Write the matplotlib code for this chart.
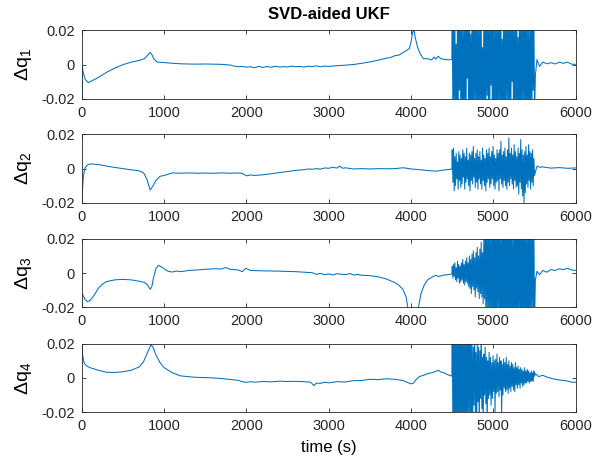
import numpy as np
import matplotlib

matplotlib.use("Agg")

import matplotlib.pyplot as plt  # noqa: E402

# ---- data (time in s, value of each quaternion error) ----
# smooth parts as (time, value) pairs, bursts sampled every 8 s from 4500 to 5500
burst_t = np.arange(4500, 5501, 8)

q1_pre = [
    (0, -0.03), (2, 0.0), (15, -0.004), (40, -0.0085), (80, -0.0105), (120, -0.0095),
    (200, -0.0075), (300, -0.0045), (400, -0.002), (500, 0.0), (600, 0.0015), (700, 0.0025),
    (760, 0.0035), (800, 0.0055), (830, 0.0072), (850, 0.006), (880, 0.003), (920, 0.0015),
    (1000, 0.0012), (1100, 0.0008), (1200, 0.0005), (1300, 0.0004), (1400, 0.0003),
    (1500, 0.0004), (1600, 0.0003), (1700, 0.0002), (1800, -0.0002), (1850, -0.0008),
    (1900, -0.0012), (1950, -0.001), (2000, -0.0015), (2050, -0.0012), (2100, -0.0018),
    (2150, -0.001), (2200, -0.0016), (2250, -0.0011), (2300, -0.0015), (2350, -0.0009),
    (2400, -0.0014), (2450, -0.0012), (2500, -0.0013), (2550, -0.0008), (2600, -0.0012),
    (2650, -0.001), (2700, -0.0014), (2750, -0.0009), (2800, -0.0011), (2850, -0.0007),
    (2900, -0.0012), (2950, -0.0008), (3000, -0.001), (3100, -0.0006), (3200, -0.0003),
    (3300, 0.0001), (3400, 0.0008), (3500, 0.0016), (3600, 0.0026), (3700, 0.0038),
    (3750, 0.0042), (3800, 0.0052), (3850, 0.0056), (3900, 0.007), (3950, 0.0085),
    (3980, 0.0095), (4000, 0.0135), (4020, 0.019), (4035, 0.0205), (4050, 0.016),
    (4080, 0.01), (4110, 0.0065), (4150, 0.0035), (4200, 0.0035), (4250, 0.0028),
    (4280, 0.0045), (4300, 0.0032), (4330, 0.005), (4360, 0.0035), (4400, 0.0032),
    (4450, 0.0028), (4496, 0.003),
]
q1_burst = [
    0.03, -0.03, 0.03, -0.028, 0.03, -0.03, 0.012, -0.03, 0.03, -0.03, 0.03, -0.015, 0.03, -0.03,
    0.03, -0.03, 0.022, -0.03, 0.03, -0.03, 0.03, -0.03, 0.03, -0.008, 0.03, -0.03, 0.03, -0.03,
    0.018, -0.03, 0.03, -0.03, 0.03, -0.03, 0.03, -0.022, 0.03, -0.03, 0.03, -0.03, 0.025, -0.03,
    0.03, -0.03, 0.03, -0.03, 0.01, -0.03, 0.03, -0.03, 0.03, -0.03, 0.03, -0.018, 0.03, -0.03,
    0.03, -0.03, 0.03, -0.012, 0.03, -0.03, 0.03, -0.03, 0.02, -0.03, 0.03, -0.03, 0.03, -0.03,
    0.03, -0.025, 0.03, -0.03, 0.03, -0.03, 0.015, -0.03, 0.03, -0.03, 0.03, -0.03, 0.03, -0.02,
    0.03, -0.03, 0.03, -0.03, 0.03, -0.03, 0.03, -0.01, 0.03, -0.03, 0.024, -0.03, 0.03, -0.03,
    0.03, -0.03, 0.016, -0.03, 0.03, -0.03, 0.03, -0.03, 0.03, -0.022, 0.03, -0.03, 0.03, -0.03,
    0.03, -0.03, 0.03, -0.03, 0.02, -0.03, 0.03, -0.03, 0.03, -0.03, 0.03, -0.015, 0.03, -0.03,
]
q1_post = [
    (5510, -0.006), (5530, 0.003), (5560, -0.001), (5600, 0.0015), (5650, 0.0005),
    (5700, 0.0012), (5750, 0.0004), (5800, 0.0015), (5850, 0.0008), (5900, 0.0015),
    (5950, 0.0003), (6000, 0.0002),
]

q2_pre = [
    (0, -0.03), (5, -0.015), (20, -0.004), (40, 0.0005), (70, 0.0022), (100, 0.0027),
    (150, 0.0026), (200, 0.0024), (300, 0.0015), (400, 0.0007), (500, 0.0), (600, -0.0007),
    (700, -0.0013), (750, -0.0025), (790, -0.006), (830, -0.0125), (860, -0.0105),
    (900, -0.007), (950, -0.0045), (1000, -0.004), (1100, -0.0025), (1200, -0.0027),
    (1300, -0.0025), (1400, -0.0027), (1500, -0.0026), (1600, -0.0027), (1700, -0.0025),
    (1800, -0.0027), (1900, -0.0025), (1950, -0.0028), (2000, -0.0042), (2050, -0.0037),
    (2100, -0.004), (2200, -0.0036), (2300, -0.003), (2400, -0.0023), (2500, -0.0017),
    (2600, -0.001), (2700, -0.0006), (2750, -0.0002), (2800, -0.0004), (2850, 0.0),
    (2900, -0.0003), (2950, 0.0004), (3000, 0.0002), (3050, 0.0008), (3100, 0.0003),
    (3130, 0.0015), (3170, 0.0002), (3200, 0.0005), (3300, -0.0002), (3400, 0.0),
    (3500, -0.0002), (3600, 0.0), (3700, -0.0001), (3800, 0.0), (3900, 0.0005),
    (3950, 0.0002), (4000, -0.0002), (4100, -0.0006), (4200, -0.0011), (4300, -0.0015),
    (4350, -0.0012), (4400, -0.0008), (4450, -0.0005), (4496, -0.0003),
]
q2_burst = [
    0.011, -0.008, 0.012, -0.013, 0.007, -0.010, 0.009, -0.006, 0.004, -0.012, 0.010, -0.007, 0.008, -0.011,
    0.006, -0.009, 0.011, -0.005, 0.009, -0.012, 0.007, -0.008, 0.012, -0.006, 0.005, -0.010, 0.009, -0.013,
    0.008, -0.007, 0.010, -0.009, 0.013, -0.005, 0.006, -0.011, 0.009, -0.008, 0.011, -0.012, 0.007, -0.006,
    0.010, -0.009, 0.005, -0.012, 0.012, -0.007, 0.008, -0.010, 0.006, -0.013, 0.011, -0.008, 0.009, -0.006,
    0.012, -0.011, 0.007, -0.009, 0.010, -0.006, 0.013, -0.010, 0.008, -0.012, 0.006, -0.008, 0.011, -0.007,
    0.009, -0.013, 0.011, -0.006, 0.016, -0.009, 0.008, -0.011, 0.010, -0.007, 0.012, -0.010, 0.007, -0.012,
    0.011, -0.008, 0.018, -0.010, 0.009, -0.006, 0.012, -0.009, 0.008, -0.012, 0.014, -0.007, 0.010, -0.011,
    0.007, -0.010, 0.012, -0.015, 0.009, -0.008, 0.017, -0.012, 0.011, -0.016, 0.008, -0.020, 0.010, -0.014,
    0.013, -0.009, 0.008, -0.011, 0.014, -0.007, 0.010, -0.012, 0.009, -0.008, 0.011, -0.010, 0.006, -0.004,
]
q2_post = [
    (5510, -0.002), (5530, 0.0015), (5560, 0.0008), (5600, 0.001), (5700, 0.0003),
    (5800, 0.0006), (5900, 0.0002), (6000, 0.0004),
]

q3_pre = [
    (0, -0.012), (15, -0.013), (40, -0.0155), (70, -0.0168), (100, -0.016), (150, -0.013),
    (200, -0.009), (250, -0.0065), (300, -0.005), (400, -0.004), (500, -0.0037), (600, -0.004),
    (700, -0.0048), (760, -0.0055), (800, -0.007), (830, -0.0095), (850, -0.008), (870, -0.003),
    (900, 0.0025), (930, 0.0045), (960, 0.0038), (1000, 0.0025), (1050, 0.001), (1100, 0.0006),
    (1150, 0.0012), (1200, 0.0008), (1300, 0.0015), (1400, 0.0018), (1500, 0.0022),
    (1600, 0.0025), (1700, 0.0024), (1750, 0.0032), (1800, 0.0022), (1900, 0.0018),
    (1950, 0.0008), (1990, 0.0028), (2050, 0.0015), (2200, 0.0013), (2400, 0.0011),
    (2600, 0.0008), (2700, 0.0005), (2800, 0.0002), (2850, -0.0008), (2900, -0.0002),
    (2950, -0.001), (3000, -0.0005), (3050, -0.0011), (3100, -0.0004), (3200, -0.0009),
    (3260, -0.0003), (3300, -0.0012), (3350, -0.0008), (3400, -0.0013), (3500, -0.0015),
    (3600, -0.0022), (3700, -0.0035), (3800, -0.0055), (3850, -0.007), (3900, -0.0095),
    (3940, -0.014), (3960, -0.02), (3980, -0.03), (4080, -0.03), (4090, -0.02),
    (4120, -0.012), (4160, -0.007), (4200, -0.004), (4250, -0.0025), (4300, -0.0013),
    (4330, -0.002), (4400, -0.0012), (4496, -0.0006),
]
q3_burst = [
    0.004, -0.003, 0.005, -0.002, 0.006, -0.004, 0.003, -0.005, 0.007, -0.003, 0.005, -0.006, 0.004, -0.005,
    0.006, -0.004, 0.008, -0.006, 0.005, -0.007, 0.007, -0.005, 0.009, -0.006, 0.006, -0.008, 0.010, -0.009,
    0.008, -0.012, 0.011, -0.008, 0.013, -0.010, 0.009, -0.014, 0.012, -0.009, 0.015, -0.011, 0.010, -0.015,
    0.014, -0.012, 0.018, -0.014, 0.012, -0.018, 0.020, -0.015, 0.030, -0.022, 0.025, -0.030, 0.030, -0.020,
    0.030, -0.030, 0.022, -0.030, 0.030, -0.025, 0.030, -0.030, 0.026, -0.030, 0.030, -0.030, 0.030, -0.022,
    0.030, -0.030, 0.030, -0.030, 0.024, -0.030, 0.030, -0.030, 0.030, -0.030, 0.030, -0.026, 0.030, -0.030,
    0.030, -0.030, 0.030, -0.030, 0.030, -0.030, 0.030, -0.030, 0.022, -0.030, 0.030, -0.030, 0.030, -0.030,
    0.030, -0.030, 0.030, -0.025, 0.030, -0.030, 0.030, -0.030, 0.030, -0.030, 0.030, -0.030, 0.030, -0.030,
    0.030, -0.030, 0.025, -0.030, 0.030, -0.030, 0.030, -0.030, 0.030, -0.020, 0.030, -0.030, 0.030, -0.030,
]
q3_post = [
    (5510, -0.004), (5530, 0.001), (5560, -0.001), (5600, 0.0015), (5650, 0.0005),
    (5700, 0.002), (5750, 0.0015), (5800, 0.0025), (5850, 0.002), (5900, 0.0028),
    (5950, 0.0018), (6000, 0.0015),
]

q4_pre = [
    (0, 0.021), (10, 0.013), (30, 0.0085), (60, 0.007), (100, 0.006), (200, 0.0045),
    (300, 0.0033), (400, 0.0032), (500, 0.0036), (600, 0.0045), (700, 0.0065), (750, 0.0095),
    (800, 0.015), (840, 0.0195), (870, 0.0175), (900, 0.0135), (950, 0.009), (1000, 0.006),
    (1100, 0.003), (1200, 0.0012), (1300, 0.0007), (1400, 0.0003), (1500, 0.0002), (1600, 0.0),
    (1700, -0.0004), (1800, -0.0009), (1900, -0.0014), (1950, -0.0022), (2000, -0.0026),
    (2050, -0.0022), (2100, -0.0025), (2200, -0.0021), (2300, -0.0023), (2400, -0.0019),
    (2500, -0.0021), (2600, -0.002), (2700, -0.0022), (2780, -0.0025), (2820, -0.0045),
    (2850, -0.003), (2900, -0.0032), (2950, -0.0025), (3000, -0.0029), (3100, -0.0022),
    (3200, -0.0024), (3300, -0.0016), (3400, -0.0015), (3500, -0.0008), (3600, -0.001),
    (3700, -0.0005), (3800, -0.0008), (3900, -0.0015), (3950, -0.0025), (4000, -0.0035),
    (4030, -0.003), (4060, -0.001), (4100, 0.0008), (4150, 0.0015), (4200, 0.0025),
    (4250, 0.003), (4300, 0.0038), (4330, 0.0045), (4360, 0.0035), (4400, 0.003),
    (4450, 0.0018), (4496, 0.001),
]
q4_burst = [
    0.03, -0.03, 0.03, -0.03, 0.03, -0.03, 0.03, -0.03, 0.03, -0.03, 0.03, -0.03, 0.03, -0.03,
    0.03, -0.03, 0.03, -0.03, 0.025, -0.03, 0.03, -0.03, 0.03, -0.03, 0.03, -0.022, 0.03, -0.03,
    0.03, -0.03, 0.022, -0.03, 0.018, -0.016, 0.03, -0.02, 0.015, -0.03, 0.02, -0.014, 0.018, -0.03,
    0.016, -0.012, 0.03, -0.018, 0.012, -0.03, 0.014, -0.01, 0.018, -0.015, 0.012, -0.03, 0.01, -0.012,
    0.015, -0.01, 0.012, -0.016, 0.009, -0.012, 0.013, -0.008, 0.01, -0.02, 0.011, -0.009, 0.014, -0.008,
    0.009, -0.011, 0.012, -0.007, 0.01, -0.022, 0.008, -0.01, 0.011, -0.006, 0.009, -0.008, 0.012, -0.007,
    0.008, -0.009, 0.01, -0.006, 0.007, -0.008, 0.009, -0.005, 0.008, -0.007, 0.006, -0.008, 0.009, -0.004,
    0.006, -0.006, 0.007, -0.004, 0.005, -0.006, 0.006, -0.003, 0.005, -0.005, 0.004, -0.004, 0.006, -0.003,
    0.004, -0.003, 0.005, -0.002, 0.004, -0.003, 0.003, -0.002, 0.004, -0.002, 0.003, -0.002, 0.004, 0.001,
]
q4_post = [
    (5510, 0.0025), (5550, 0.0008), (5600, 0.0015), (5650, 0.0005), (5700, -0.0002),
    (5750, -0.0008), (5800, -0.0012), (5850, -0.0015), (5900, -0.0018), (5950, -0.0025),
    (6000, -0.0025),
]

series = [
    (q1_pre, q1_burst, q1_post),
    (q2_pre, q2_burst, q2_post),
    (q3_pre, q3_burst, q3_post),
    (q4_pre, q4_burst, q4_post),
]
y_labels = [r"$\Delta\mathrm{q}_1$", r"$\Delta\mathrm{q}_2$",
            r"$\Delta\mathrm{q}_3$", r"$\Delta\mathrm{q}_4$"]
x_ticks = [0, 1000, 2000, 3000, 4000, 5000, 6000]
y_ticks = [-0.02, 0, 0.02]

_LINE = "#0072BD"

plt.rcParams["font.family"] = ["Liberation Sans", "DejaVu Sans"]
plt.rcParams["mathtext.fontset"] = "custom"
plt.rcParams["mathtext.rm"] = "Liberation Sans"
plt.rcParams["mathtext.it"] = "Liberation Sans"


def _join(pre, burst, post):
    t_pre, v_pre = zip(*pre)
    t_post, v_post = zip(*post)
    t = np.concatenate([t_pre, burst_t, t_post])
    v = np.concatenate([v_pre, burst, v_post])
    return t, v


fig = plt.figure(figsize=(6.06, 4.62), dpi=100)
left, width = 0.135, 0.815
bottoms = [0.786, 0.561, 0.335, 0.108]
height = 0.148

for i, (pre, burst, post) in enumerate(series):
    ax = fig.add_axes([left, bottoms[i], width, height])
    t, v = _join(pre, burst, post)
    ax.plot(t, v, color=_LINE, linewidth=0.75)
    ax.set_xlim(0, 6000)
    ax.set_ylim(-0.02, 0.02)
    ax.set_xticks(x_ticks)
    ax.set_yticks(y_ticks)
    ax.set_yticklabels(["-0.02", "0", "0.02"])
    ax.tick_params(direction="in", top=True, right=True, length=3,
                   width=0.6, labelsize=10.5, colors="#262626", pad=5)
    for spine in ax.spines.values():
        spine.set_linewidth(0.6)
        spine.set_color("#262626")
    ax.set_ylabel(y_labels[i], fontsize=14, rotation=90, labelpad=5)
    if i == 0:
        ax.set_title("SVD-aided UKF", fontsize=12, fontweight="bold", pad=8)
    if i == 3:
        ax.set_xlabel("time (s)", fontsize=12, labelpad=5)

fig.savefig("out.png", dpi=100)
